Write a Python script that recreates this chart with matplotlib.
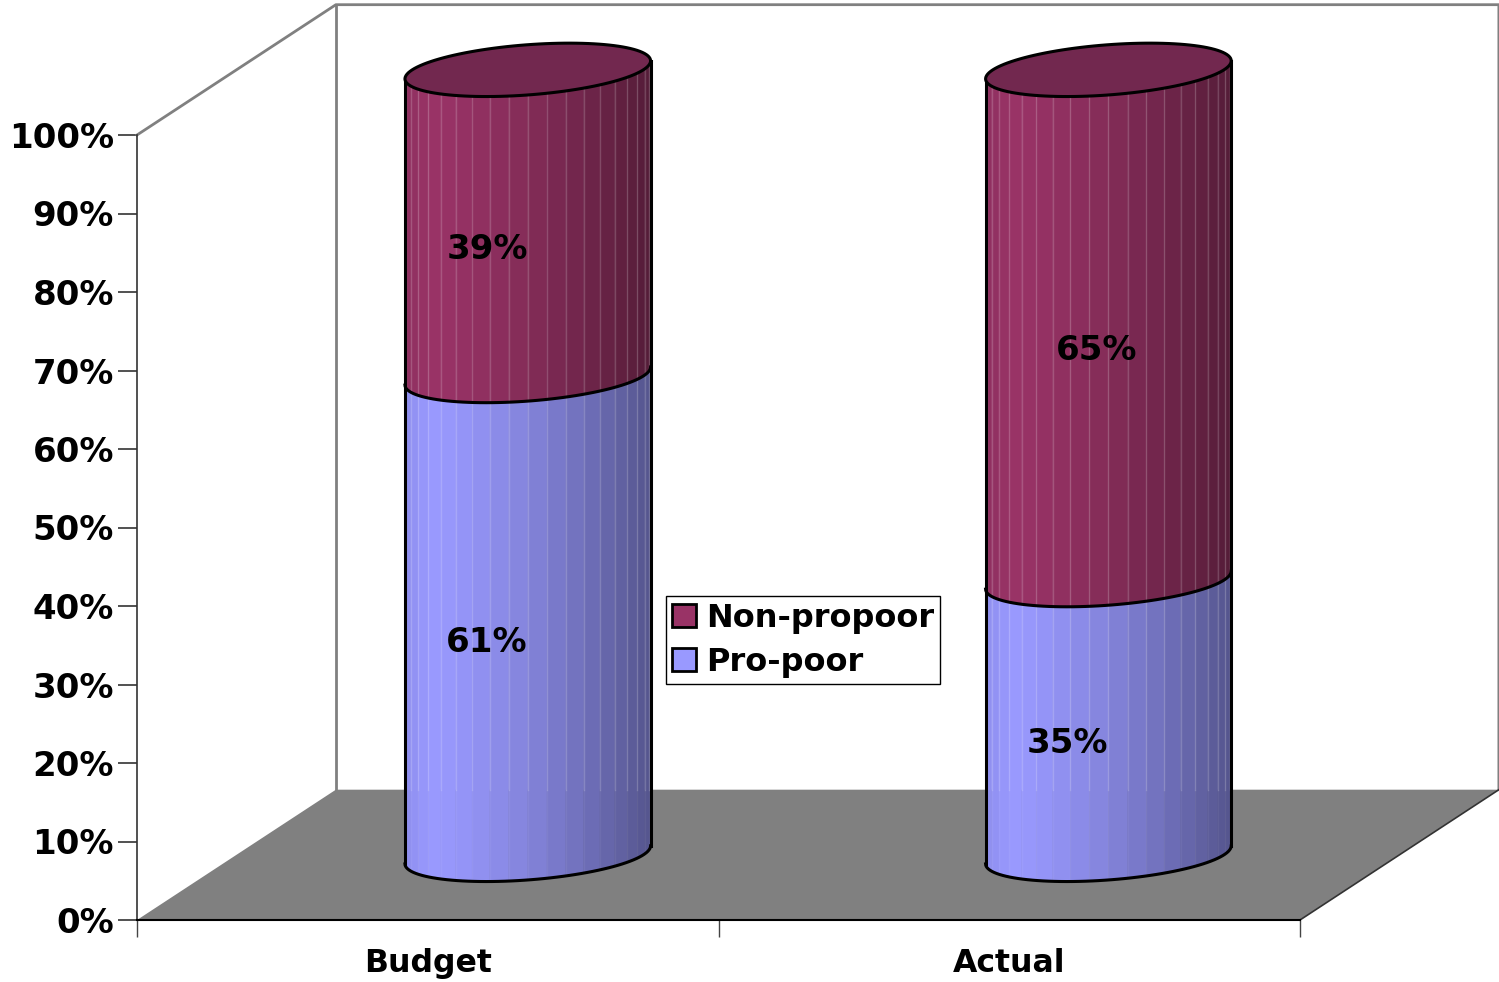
import numpy as np
import matplotlib
matplotlib.use("Agg")
import matplotlib.pyplot as plt
from matplotlib.patches import Patch

categories = ["Budget", "Actual"]
pro_poor = [61, 35]
non_propoor = [39, 65]
y_ticks = [0, 10, 20, 30, 40, 50, 60, 70, 80, 90, 100]

W, H = 1499, 982
MAROON = "#993366"
BLUE = "#9999FF"
LID = "#72284F"
GREY = "#808080"

# fake 3d box, all in data units (x: categories, y: percent)
DX, DY = 0.342, 16.6
HALF_W = 0.2112
SHEAR, MINOR = 1.15, 3.2
N_STRIPS = 20

plt.rcParams["font.family"] = "DejaVu Sans"
plt.rcParams["font.weight"] = "bold"

fig = plt.figure(figsize=(W / 100, H / 100), dpi=100)
ax = fig.add_axes([137 / W, 1 - 920 / H, (1300 - 137) / W, (920 - 135) / H])
ax.set_xlim(0, 2)
ax.set_ylim(0, 100)
ax.patch.set_visible(False)


def shade(color, u):
    # u runs 0..1 across the cylinder, light from the left
    r, g, b = matplotlib.colors.to_rgb(color)
    if u < 0.1:
        f = 0.93 + 0.07 * u / 0.1
    else:
        f = 1 - 0.45 * ((u - 0.1) / 0.9) ** 1.4
    return (r * f, g * f, b * f)


def arc(cx, cy, t):
    return cx + HALF_W * np.cos(t), cy + SHEAR * np.cos(t) - MINOR * np.sin(t)


def segment(cx, base, low, high, color):
    t = np.linspace(np.pi, 0, N_STRIPS + 1)
    for i in range(N_STRIPS):
        tt = np.linspace(t[i], t[i + 1], 6)
        x0, y0 = arc(cx, base + low, tt)
        x1, y1 = arc(cx, base + high, tt)
        u = (x0.mean() - cx + HALF_W) / (2 * HALF_W)
        c = shade(color, u)
        ax.fill(np.r_[x0, x1[::-1]], np.r_[y0, y1[::-1]], facecolor=c, edgecolor=c,
                lw=0.4, clip_on=False, zorder=3)
        # pale seams between the strips, stronger above the floor
        if i > 0:
            ya, yb = y0[0], y1[0]
            ax.plot([x0[0], x0[0]], [max(ya, DY), yb], color="white", alpha=0.18, lw=1,
                    clip_on=False, zorder=3.1)
            if ya < DY:
                ax.plot([x0[0], x0[0]], [ya, min(yb, DY)], color="white", alpha=0.05, lw=1,
                        clip_on=False, zorder=3.1)


# walls and floor
ax.fill([0, DX, 2 + DX, 2], [0, DY, DY, 0], color=GREY, lw=0, zorder=1, clip_on=False)
ax.plot([0, DX, 2 + DX, 2 + DX], [100, 100 + DY, 100 + DY, DY], color=GREY, lw=2, clip_on=False, zorder=2)
ax.plot([DX, DX], [100 + DY, DY], color=GREY, lw=2, clip_on=False, zorder=2)
ax.plot([2, 2 + DX], [0, DY], color="#333333", lw=1.2, clip_on=False, zorder=2)

label_nudge = [(-0.07, -3.4), (-0.07, -3.4), (-0.07, -3.3), (-0.02, -3.3)]
k = 0
for i, name in enumerate(categories):
    cx = i * 0.9985 + 0.5 + DX / 2 + 0.001
    base = DY / 2
    low, high = pro_poor[i], pro_poor[i] + non_propoor[i]
    segment(cx, base, 0, low, BLUE)
    segment(cx, base, low, high, MAROON)

    # outline
    t_front = np.linspace(np.pi, 0, 60)
    for v in (0, low):
        xa, ya = arc(cx, base + v, t_front)
        ax.plot(xa, ya, color="black", lw=2.2, clip_on=False, zorder=4)
    for side in (np.pi, 0):
        xa, ya0 = arc(cx, base, side)
        _, ya1 = arc(cx, base + high, side)
        ax.plot([xa, xa], [ya0, ya1], color="black", lw=2.2, clip_on=False, zorder=4)

    # lid
    t_all = np.linspace(0, 2 * np.pi, 120)
    xa, ya = arc(cx, base + high, t_all)
    ax.fill(xa, ya, facecolor=LID, edgecolor="black", lw=2.2, clip_on=False, zorder=4)

    # value labels
    for val, mid in ((pro_poor[i], low / 2), (non_propoor[i], low + (high - low) / 2)):
        nx, ny = label_nudge[k]
        k += 1
        ax.text(cx + nx, base + mid + ny, f"{val}%", ha="center", va="center",
                fontsize=24.5, color="black", zorder=5)

# axes furniture
for s in ("top", "right"):
    ax.spines[s].set_visible(False)
ax.spines["left"].set_color("#333333")
ax.spines["left"].set_linewidth(1.2)
ax.spines["bottom"].set_color("black")
ax.spines["bottom"].set_linewidth(1.5)
ax.spines["left"].set_zorder(2)
ax.spines["bottom"].set_zorder(2)

ax.set_yticks(y_ticks)
ax.set_yticklabels([f"{v}%" for v in y_ticks], fontsize=24.5)
ax.tick_params(axis="y", length=14, width=1.2, color="#333333", pad=2.5)
ax.set_xticks([0, 1, 2])
ax.set_xticklabels([])
ax.tick_params(axis="x", length=12, width=1, color="#444444")
ax.set_xticks([i + 0.5 for i in range(len(categories))], categories, minor=True, fontsize=22.7)
ax.tick_params(axis="x", which="minor", length=0, pad=20)

handles = [Patch(facecolor=MAROON, edgecolor="black", lw=2, label="Non-propoor"),
           Patch(facecolor=BLUE, edgecolor="black", lw=2, label="Pro-poor")]
leg = fig.legend(handles=handles, loc="lower left", bbox_to_anchor=(666 / W, 1 - 684 / H),
                 bbox_transform=fig.transFigure, borderaxespad=0, fontsize=23, frameon=True,
                 fancybox=False, framealpha=1, edgecolor="black",
                 handlelength=0.73, handleheight=0.73, handletextpad=0.32,
                 borderpad=0.2, labelspacing=0.41)
leg.get_frame().set_linewidth(1)
leg.set_zorder(6)

fig.savefig("out.png", dpi=100)
